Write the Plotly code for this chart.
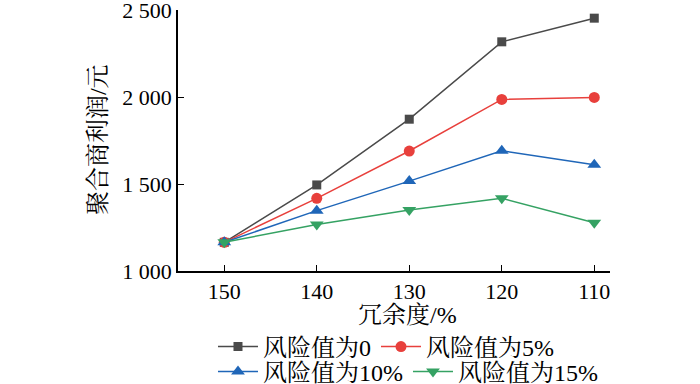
import plotly.graph_objects as go

redundancy = [150, 140, 130, 120, 110]
names = ["风险值为0", "风险值为5%", "风险值为10%", "风险值为15%"]
risk0 = [1165, 1495, 1873, 2318, 2454]
risk5 = [1165, 1418, 1690, 1987, 1998]
risk10 = [1165, 1347, 1517, 1691, 1611]
risk15 = [1165, 1268, 1351, 1418, 1278]
series = [risk0, risk5, risk10, risk15]

ytickvals = [1000, 1500, 2000, 2500]
yticktext = ["1 000", "1 500", "2 000", "2 500"]

colors = ["#4a4a4a", "#e8403c", "#1f66b8", "#35a263"]
symbols = ["square", "circle", "triangle-up", "triangle-down"]
msizes = [9, 11, 12, 12]
legends = ["legend", "legend", "legend2", "legend2"]

FONT = "Liberation Serif, 'Noto Serif CJK SC', 'Noto Sans CJK SC', serif"

fig = go.Figure()
for name, vals, c, s, ms, lg in zip(names, series, colors, symbols, msizes, legends):
    fig.add_trace(go.Scatter(
        x=redundancy, y=vals, name=name, mode="lines+markers",
        line=dict(color=c, width=1.5),
        marker=dict(symbol=s, size=ms, color=c),
        legend=lg,
    ))

axis_common = dict(
    showline=True, linecolor="black", linewidth=1.5,
    ticks="inside", ticklen=6, tickwidth=1.2, tickcolor="black",
    showgrid=False, zeroline=False, automargin=False,
    ticklabeloverflow="allow",
    tickfont=dict(family=FONT, size=22, color="black"),
)

fig.update_layout(
    width=700, height=384,
    margin=dict(l=178, r=90, t=10, b=113, autoexpand=False),
    paper_bgcolor="white", plot_bgcolor="white",
    font=dict(family=FONT, color="black"),
    xaxis=dict(range=[155, 108.3], tickvals=redundancy, **axis_common),
    yaxis=dict(range=[1000, 2501], tickvals=ytickvals, ticktext=yticktext, **axis_common),
    legend=dict(orientation="h", x=0.081, xanchor="left", y=-0.291, yanchor="middle",
                font=dict(family=FONT, size=24, color="black"), bgcolor="rgba(0,0,0,0)",
                itemwidth=40, tracegroupgap=0),
    legend2=dict(orientation="h", x=0.081, xanchor="left", y=-0.387, yanchor="middle",
                 font=dict(family=FONT, size=24, color="black"), bgcolor="rgba(0,0,0,0)",
                 itemwidth=40, tracegroupgap=0),
    annotations=[
        dict(text="聚合商利润/元", xref="paper", yref="paper", x=-0.185, y=0.502,
             xanchor="center", yanchor="middle", textangle=-90, showarrow=False,
             font=dict(family=FONT, size=24, color="black")),
        dict(text="冗余度/%", xref="paper", yref="paper", x=0.532, y=-0.169,
             xanchor="center", yanchor="middle", showarrow=False,
             font=dict(family=FONT, size=24, color="black")),
    ],
)

fig.write_html("out.html", config={"displayModeBar": False},
               post_script="document.body.style.margin='0';document.body.style.padding='0';")
